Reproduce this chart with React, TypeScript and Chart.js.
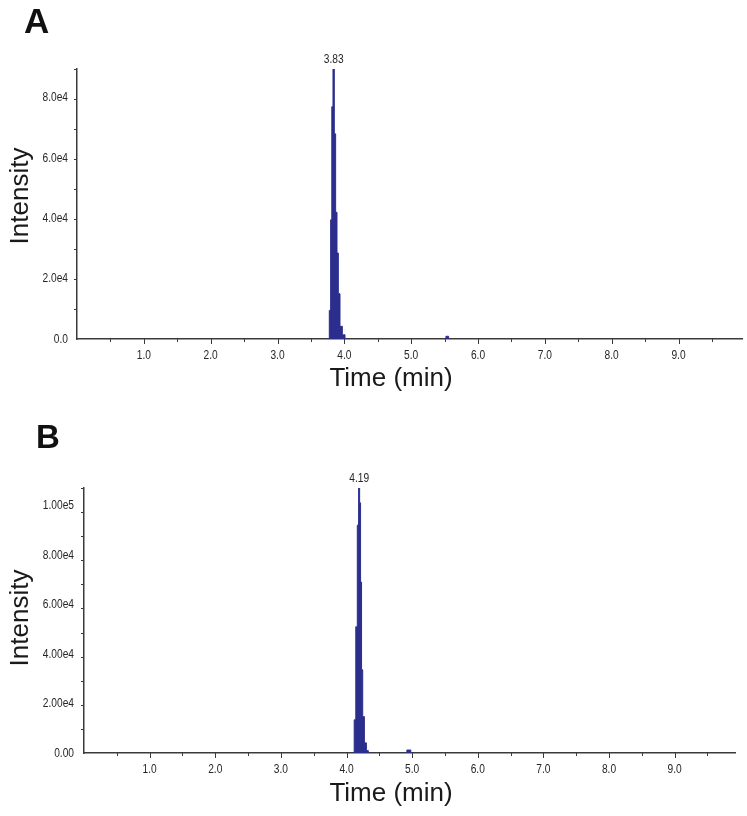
import React, { useEffect, useRef } from 'react';
import { Chart, registerables } from 'chart.js';

Chart.register(...registerables);

// ---- data ----
const timeA = [0, 3.765, 3.785, 3.805, 3.82, 3.84, 3.86, 3.88, 3.9, 3.92, 3.95, 3.99, 4.03, 5.5, 5.54, 5.58, 9.95];
const intensityA = [0, 0, 9500, 39500, 77000, 89500, 68000, 42000, 28500, 15000, 4200, 1400, 0, 0, 900, 0, 0];

const timeB = [0, 4.104, 4.13, 4.153, 4.176, 4.193, 4.207, 4.222, 4.237, 4.257, 4.288, 4.318, 4.345, 4.89, 4.95, 5.01, 9.92];
const intensityB = [0, 0, 13400, 51000, 92000, 107000, 101000, 69000, 33600, 14700, 4100, 1000, 0, 0, 1200, 0, 0];

const xTickValues = [1, 2, 3, 4, 5, 6, 7, 8, 9];
const xTickLabels = ['1.0', '2.0', '3.0', '4.0', '5.0', '6.0', '7.0', '8.0', '9.0'];

const yTickValuesA = [0, 20000, 40000, 60000, 80000];
const yTickLabelsA = ['0.0', '2.0e4', '4.0e4', '6.0e4', '8.0e4'];

const yTickValuesB = [0, 20000, 40000, 60000, 80000, 100000];
const yTickLabelsB = ['0.00', '2.00e4', '4.00e4', '6.00e4', '8.00e4', '1.00e5'];

const peakLabels = ['3.83', '4.19'];
const panelLetters = ['A', 'B'];
const xTitle = 'Time (min)';
const yTitle = 'Intensity';

const SERIES_COLOR = '#2b2e8c';
const AXIS_COLOR = '#3a3a3a';
const SMALL_FONT = "'Liberation Sans', Arial, sans-serif";
const TITLE_FONT = "'Liberation Sans', Arial, sans-serif";
const TITLE_SIZE = 26;
const CONDENSE = 0.85;

interface Panel {
  top: number;
  height: number;
  padTop: number;
  padRight: number;
  yAxisWidth: number;
  xAxisHeight: number;
  xMax: number;
  yMax: number;
  time: number[];
  intensity: number[];
  yTickValues: number[];
  yTickLabels: string[];
  yLabelGap: number;
  peakLabel: string;
  letter: string;
  letterX: number;
  letterY: number;
  letterSize: number;
  xTitleX: number;
  xTitleBaseline: number;
  yTitleBaseline: number;
  yTitleCenter: number;
}

const panels: Panel[] = [
  {
    top: 0, height: 408, padTop: 69, padRight: 5, yAxisWidth: 77, xAxisHeight: 69,
    xMax: 9.95, yMax: 89500, time: timeA, intensity: intensityA,
    yTickValues: yTickValuesA, yTickLabels: yTickLabelsA, yLabelGap: 9, peakLabel: peakLabels[0],
    letter: panelLetters[0], letterX: 24, letterY: 33, letterSize: 35,
    xTitleX: 391, xTitleBaseline: 386, yTitleBaseline: 28, yTitleCenter: 196,
  },
  {
    top: 408, height: 408, padTop: 80, padRight: 12, yAxisWidth: 84, xAxisHeight: 63,
    xMax: 9.92, yMax: 107000, time: timeB, intensity: intensityB,
    yTickValues: yTickValuesB, yTickLabels: yTickLabelsB, yLabelGap: 10, peakLabel: peakLabels[1],
    letter: panelLetters[1], letterX: 36, letterY: 40, letterSize: 33,
    xTitleX: 391, xTitleBaseline: 393, yTitleBaseline: 28, yTitleCenter: 210,
  },
];

function drawCondensed(
  ctx: CanvasRenderingContext2D,
  text: string,
  x: number,
  y: number,
  align: 'left' | 'right' | 'center',
) {
  ctx.save();
  ctx.translate(x, y);
  ctx.scale(CONDENSE, 1);
  ctx.textAlign = align;
  ctx.fillText(text, 0, 0);
  ctx.restore();
}

function makeDecor(p: Panel) {
  return {
    id: 'decor',
    afterDraw(chart: any) {
      const ctx = chart.ctx as CanvasRenderingContext2D;
      const xs = chart.scales.x;
      const ys = chart.scales.y;
      const area = chart.chartArea;
      ctx.save();
      ctx.strokeStyle = AXIS_COLOR;
      ctx.lineWidth = 1;
      // x tick marks (every 0.5, from the scale's ticks)
      for (const t of xs.ticks) {
        const v = t.value;
        if (v <= 0) continue;
        const major = xTickValues.some((m) => Math.abs(m - v) < 1e-6);
        const px = Math.round(xs.getPixelForValue(v)) + 0.5;
        ctx.beginPath();
        ctx.moveTo(px, area.bottom);
        ctx.lineTo(px, area.bottom + (major ? 5 : 3));
        ctx.stroke();
      }
      // y tick marks
      for (const t of ys.ticks) {
        const v = t.value;
        if (v <= 0) continue;
        const major = p.yTickValues.some((m) => Math.abs(m - v) < 1e-6);
        const py = Math.round(ys.getPixelForValue(v)) + 0.5;
        ctx.beginPath();
        ctx.moveTo(area.left - (major ? 5 : 3), py);
        ctx.lineTo(area.left, py);
        ctx.stroke();
      }
      ctx.fillStyle = '#262626';
      ctx.font = `12px ${SMALL_FONT}`;
      // x tick labels
      ctx.textBaseline = 'middle';
      xTickValues.forEach((v, i) => {
        drawCondensed(ctx, xTickLabels[i], xs.getPixelForValue(v), area.bottom + 17, 'center');
      });
      // y tick labels
      p.yTickValues.forEach((v, i) => {
        drawCondensed(ctx, p.yTickLabels[i], area.left - p.yLabelGap, ys.getPixelForValue(v) + 0.5, 'right');
      });
      // peak label
      const ds = chart.data.datasets[0].data as { x: number; y: number }[];
      let best = ds[0];
      for (const q of ds) if (q.y > best.y) best = q;
      ctx.textBaseline = 'alphabetic';
      drawCondensed(ctx, p.peakLabel, xs.getPixelForValue(best.x), ys.getPixelForValue(best.y) - 6, 'center');
      // axis titles
      ctx.fillStyle = '#1a1a1a';
      ctx.font = `${TITLE_SIZE}px ${TITLE_FONT}`;
      ctx.textAlign = 'center';
      ctx.textBaseline = 'alphabetic';
      ctx.fillText(xTitle, p.xTitleX, p.xTitleBaseline);
      ctx.save();
      ctx.translate(p.yTitleBaseline, p.yTitleCenter);
      ctx.rotate(-Math.PI / 2);
      ctx.fillText(yTitle, 0, 0);
      ctx.restore();
      // panel letter
      ctx.fillStyle = '#111';
      ctx.font = `bold ${p.letterSize}px ${TITLE_FONT}`;
      ctx.textAlign = 'left';
      ctx.fillText(p.letter, p.letterX, p.letterY);
      ctx.restore();
    },
  };
}

function ChromPanel({ p }: { p: Panel }) {
  const ref = useRef<HTMLCanvasElement | null>(null);
  useEffect(() => {
    if (!ref.current) return;
    const points = p.time.map((t, i) => ({ x: t, y: p.intensity[i] }));
    const chart = new Chart(ref.current, {
      type: 'line',
      data: {
        datasets: [
          {
            data: points,
            borderColor: SERIES_COLOR,
            backgroundColor: SERIES_COLOR,
            borderWidth: 1,
            fill: 'origin',
            stepped: 'middle',
            pointRadius: 0,
            segment: {
              borderColor: (c: any) =>
                c.p0.parsed.y === 0 && c.p1.parsed.y === 0 ? 'rgba(0,0,0,0)' : SERIES_COLOR,
            },
          },
        ],
      },
      options: {
        responsive: false,
        animation: false,
        devicePixelRatio: 1,
        layout: { padding: { top: p.padTop, right: p.padRight, left: 0, bottom: 0 } },
        plugins: {
          legend: { display: false },
          tooltip: { enabled: false },
        },
        scales: {
          x: {
            type: 'linear',
            min: 0,
            max: p.xMax,
            grid: { display: false, drawTicks: false },
            border: { display: true, color: AXIS_COLOR, width: 1.5 },
            ticks: {
              stepSize: 0.5,
              autoSkip: false,
              includeBounds: false,
              maxRotation: 0,
              color: 'rgba(0,0,0,0)',
              callback: () => '',
            },
            title: { display: false },
            afterFit: (s: any) => {
              s.height = p.xAxisHeight;
            },
          },
          y: {
            type: 'linear',
            min: 0,
            max: p.yMax,
            grid: { display: false, drawTicks: false },
            border: { display: true, color: AXIS_COLOR, width: 1.5 },
            ticks: {
              stepSize: 10000,
              autoSkip: false,
              includeBounds: false,
              color: 'rgba(0,0,0,0)',
              callback: () => '',
            },
            title: { display: false },
            afterFit: (s: any) => {
              s.width = p.yAxisWidth;
            },
          },
        },
      } as any,
      plugins: [makeDecor(p)],
    });
    return () => chart.destroy();
  }, [p]);
  return (
    <canvas
      ref={ref}
      width={747}
      height={p.height}
      style={{ position: 'absolute', left: 0, top: p.top, width: 747, height: p.height }}
    />
  );
}

export default function App() {
  return (
    <div style={{ position: 'absolute', left: 0, top: 0, width: 747, height: 816, background: '#fff' }}>
      {panels.map((p, i) => (
        <ChromPanel key={i} p={p} />
      ))}
    </div>
  );
}
